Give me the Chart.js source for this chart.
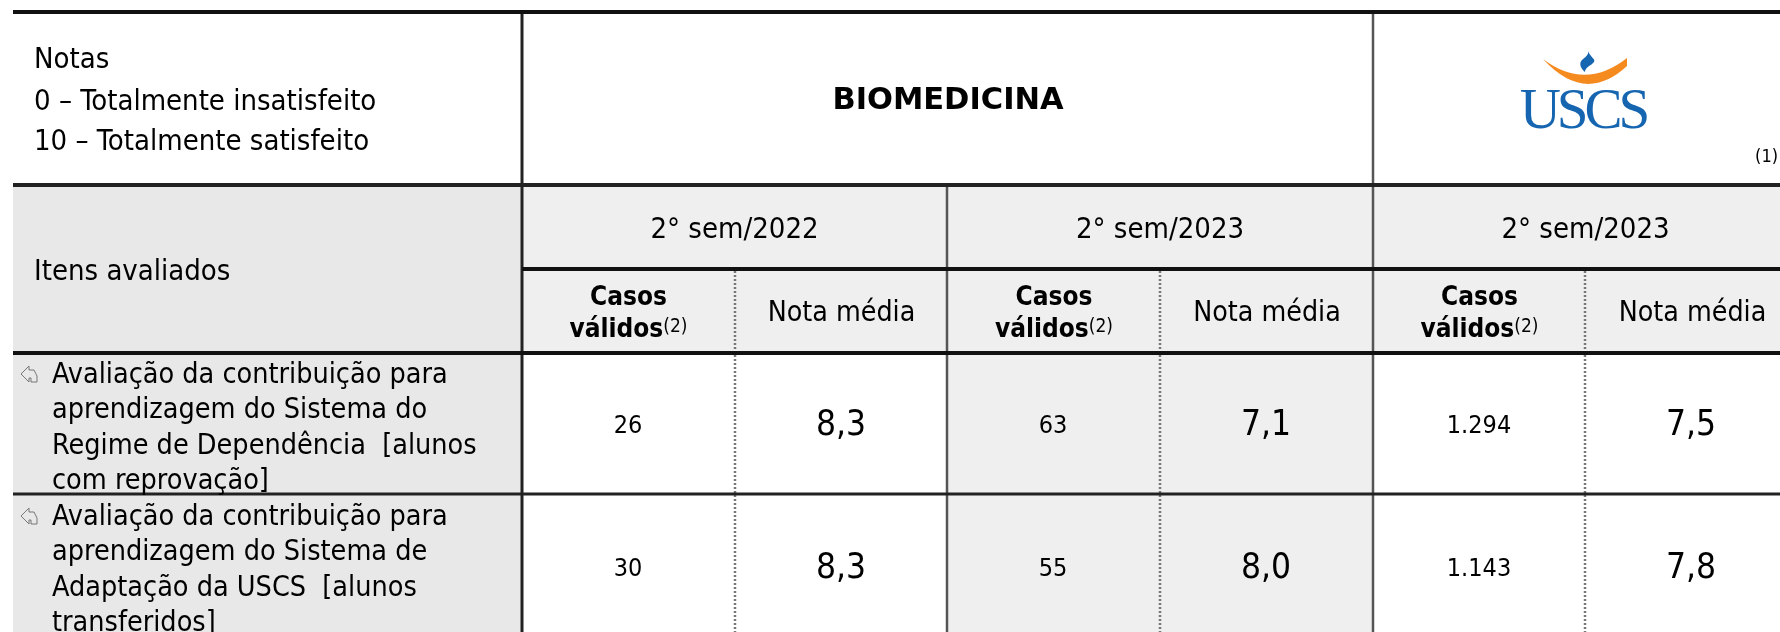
<!DOCTYPE html>
<html>
<head>
<meta charset="utf-8">
<title>Biomedicina</title>
<style>
  html, body { margin: 0; padding: 0; background: #fff; overflow: hidden; }
  #tabela { display: block; }
</style>
<script src="https://cdn.jsdelivr.net/npm/chart.js@4/dist/chart.umd.min.js"></script>
</head>
<body>
<canvas id="tabela" width="1780" height="632"></canvas>
<script>
const periodos = ['2° sem/2022', '2° sem/2023', '2° sem/2023'];
const casos2022 = [26, 30];
const notas2022 = [8.3, 8.3];
const casos2023 = [63, 55];
const notas2023 = [7.1, 8.0];
const casosUscs = [1294, 1143];
const notasUscs = [7.5, 7.8];
const notasLegenda = ['Notas', '0 – Totalmente insatisfeito', '10 – Totalmente satisfeito'];
const itens = [
    ['Avaliação da contribuição para', 'aprendizagem do Sistema do', 'Regime de Dependência  [alunos', 'com reprovação]'],
    ['Avaliação da contribuição para', 'aprendizagem do Sistema de', 'Adaptação da USCS  [alunos', 'transferidos]']
];

// grade da tabela, em unidades dos eixos
const xEsq = 13, xItens = 522, xFim = 1780;
const xPeriodo = [522, 947, 1373, 1798];
const xPontilhado = [735, 1160, 1585];
const yTopo = 12, yCab = 185, yPer = 269, yCol = 353, yLin = 494, yFim = 632;
const yLinhas = [426, 569];

const fonte = "'DejaVu Sans Condensed', 'DejaVu Sans', sans-serif";
const fmtCasos = v => String(v).replace(/\B(?=(\d{3})+$)/g, '.');
const fmtNota = v => v.toFixed(1).replace('.', ',');

function linha(x0, y0, x1, y1, cor, larg, tracos) {
    return {
        data: [{ x: x0, y: y0 }, { x: x1, y: y1 }],
        showLine: true,
        borderColor: cor,
        borderWidth: larg,
        borderDash: tracos || [],
        pointRadius: 0,
        order: 1
    };
}

function celula(x0, x1, y0, y1, cor) {
    return {
        data: [{ x: x0, y: y0 }, { x: x1, y: y0 }],
        showLine: true,
        borderWidth: 0,
        backgroundColor: cor,
        fill: { target: { value: y1 } },
        pointRadius: 0,
        order: 3
    };
}

function coluna(valores, x, fmt, tam) {
    return {
        data: valores.map((v, i) => ({ x: x, y: yLinhas[i] })),
        rotulos: valores.map(fmt),
        tamanho: tam,
        pointRadius: 0,
        order: 0
    };
}

const datasets = [
    // fundos
    celula(xEsq, xItens, yCab, yFim, '#e8e8e8'),
    celula(xItens, xFim, yCab, yCol, '#efefef'),
    celula(xPeriodo[1], xPeriodo[2], yCol, yFim, '#efefef'),
    // linhas horizontais
    linha(xEsq, yTopo, xFim, yTopo, '#111', 4),
    linha(xEsq, yCab, xFim, yCab, '#222', 4),
    linha(xItens, yPer, xFim, yPer, '#111', 4),
    linha(xEsq, yCol, xFim, yCol, '#111', 4),
    linha(xEsq, yLin, xFim, yLin, '#222', 3),
    // linhas verticais
    linha(xItens, yTopo, xItens, yFim, '#222', 3),
    linha(xPeriodo[1], yCab, xPeriodo[1], yFim, '#555', 2.5),
    linha(xPeriodo[2], yTopo, xPeriodo[2], yFim, '#555', 2.5),
    // colunas de valores
    coluna(casos2022, 628, fmtCasos, 25),
    coluna(notas2022, 841, fmtNota, 35),
    coluna(casos2023, 1053, fmtCasos, 25),
    coluna(notas2023, 1266, fmtNota, 35),
    coluna(casosUscs, 1479, fmtCasos, 25),
    coluna(notasUscs, 1691, fmtNota, 35)
];
xPontilhado.forEach(x => datasets.push(linha(x, yPer + 2, x, yFim, '#777', 2.5, [2, 2])));

const textoTabela = {
    id: 'textoTabela',
    afterDatasetsDraw(chart) {
        const ctx = chart.ctx;
        const sx = chart.scales.x, sy = chart.scales.y;
        const px = v => sx.getPixelForValue(v), py = v => sy.getPixelForValue(v);
        const escreve = (t, x, y, tam, alin, peso, base, fam) => {
            ctx.font = (peso ? peso + ' ' : '') + tam + 'px ' + (fam || fonte);
            ctx.textAlign = alin;
            ctx.textBaseline = base || 'middle';
            ctx.fillText(t, px(x), py(y));
        };
        ctx.save();
        ctx.fillStyle = '#000';

        // cabecalho
        [68, 110, 150].forEach((y, i) => escreve(notasLegenda[i], 34, y, 29, 'left', '', 'alphabetic'));
        escreve('BIOMEDICINA', 948, 101, 30.5, 'center', 'bold', 'middle', "'DejaVu Sans'");
        escreve('Itens avaliados', 34, 280, 29, 'left', '', 'alphabetic');
        escreve('(1)', 1778, 157, 18, 'right');

        periodos.forEach((p, i) => {
            const c = (xPeriodo[i] + xPeriodo[i + 1]) / 2;
            escreve(p, c, 230, 29, 'center');
            const cc = c - 106;
            escreve('Casos', cc, 298, 26, 'center', 'bold');
            ctx.font = 'bold 26px ' + fonte;
            const w = ctx.measureText('válidos').width;
            ctx.font = '19px ' + fonte;
            const s = ctx.measureText('(2)').width;
            const ini = cc - (w + s) / 2;
            escreve('válidos', ini, 337, 26, 'left', 'bold', 'alphabetic');
            escreve('(2)', ini + w, 332, 19, 'left', '', 'alphabetic');
            escreve('Nota média', c + 107, 314, 28.3, 'center');
        });

        // itens avaliados
        itens.forEach((linhas, n) => {
            const y0 = n === 0 ? 383 : 525;
            linhas.forEach((t, i) => escreve(t, 52, y0 + i * 35.3, 28.5, 'left', '', 'alphabetic'));
            // setinha
            const yi = y0 - 17;
            ctx.strokeStyle = '#777';
            ctx.lineWidth = 1;
            ctx.beginPath();
            [[21, 8], [29, 0], [29, 4], [34, 4], [37, 10], [37, 16], [31, 16], [31, 12], [29, 12], [29, 16]]
                .forEach((p, k) => {
                    if (k === 0) ctx.moveTo(px(p[0]), py(yi + p[1]));
                    else ctx.lineTo(px(p[0]), py(yi + p[1]));
                });
            ctx.closePath();
            ctx.stroke();
        });

        // valores vindos dos datasets
        chart.data.datasets.forEach((ds, i) => {
            if (!ds.rotulos) return;
            ctx.font = ds.tamanho + 'px ' + fonte;
            ctx.textAlign = 'center';
            ctx.textBaseline = 'middle';
            chart.getDatasetMeta(i).data.forEach((el, k) => ctx.fillText(ds.rotulos[k], el.x, el.y));
        });

        // logo USCS
        ctx.fillStyle = '#f58a1f';
        ctx.beginPath();
        ctx.moveTo(px(1543), py(59));
        ctx.quadraticCurveTo(px(1585), py(105), px(1627), py(66));
        ctx.lineTo(px(1627), py(58));
        ctx.quadraticCurveTo(px(1585), py(91), px(1543), py(59));
        ctx.fill();
        ctx.fillStyle = '#1565b0';
        ctx.beginPath();
        ctx.moveTo(px(1588), py(51));
        ctx.bezierCurveTo(px(1590), py(57), px(1596), py(59), px(1594), py(62));
        ctx.bezierCurveTo(px(1592), py(65), px(1585), py(67), px(1585), py(72));
        ctx.bezierCurveTo(px(1580), py(68), px(1579), py(63), px(1582), py(60));
        ctx.bezierCurveTo(px(1585), py(57), px(1589), py(55), px(1588), py(51));
        ctx.fill();
        ctx.font = '57px "Liberation Serif", serif';
        ctx.letterSpacing = '-4px';
        ctx.textAlign = 'center';
        ctx.textBaseline = 'alphabetic';
        ctx.fillText('USCS', px(1583), py(128));
        ctx.letterSpacing = '0px';

        ctx.restore();
    }
};

new Chart(document.getElementById('tabela').getContext('2d'), {
    type: 'scatter',
    data: { datasets: datasets },
    plugins: [textoTabela],
    options: {
        responsive: false,
        animation: false,
        layout: { padding: 0 },
        scales: {
            x: { type: 'linear', display: false, min: 0, max: 1780 },
            y: { type: 'linear', display: false, min: 0, max: 632, reverse: true }
        },
        plugins: {
            legend: { display: false },
            tooltip: { enabled: false }
        }
    }
});
</script>
</body>
</html>
